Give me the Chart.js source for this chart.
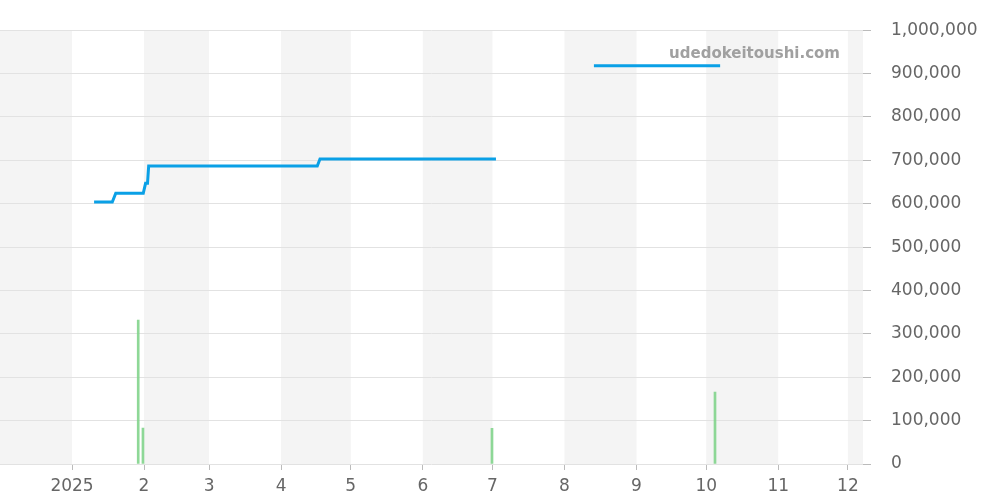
<!DOCTYPE html>
<html>
<head>
<meta charset="utf-8">
<script src="https://cdn.jsdelivr.net/npm/chart.js@4/dist/chart.umd.min.js"></script>
<style>
  html, body { margin: 0; padding: 0; background: #fff; }
  #wrap { width: 1000px; height: 500px; position: relative; }
</style>
</head>
<body>
<div id="wrap"><canvas id="c" width="1000" height="500"></canvas></div>
<script>
// ---- data ----
const xMinDate = '2024-12-01';
const xMaxDate = '2025-12-07T12:00';
const monthTickDates = ['2025-01-01','2025-02-01','2025-03-01','2025-04-01','2025-05-01','2025-06-01',
                        '2025-07-01','2025-08-01','2025-09-01','2025-10-01','2025-11-01','2025-12-01'];
const monthTickLabels = ['2025','2','3','4','5','6','7','8','9','10','11','12'];
const bandDates = ['2024-12-01', ...monthTickDates, '2026-01-01'];

const priceDates = ['2025-01-10T12:00','2025-01-18T08:00','2025-01-19T20:00','2025-01-31T16:00',
                    '2025-02-01T16:00','2025-02-02T12:00','2025-02-03T00:00','2025-04-16T14:00',
                    '2025-04-17T18:00','2025-07-02T12:00','2025-07-20',
                    '2025-08-13T16:00','2025-10-07'];
const priceValues = [604000, 604000, 624000, 624000,
                     647000, 647000, 687000, 687000,
                     703000, 703000, null,
                     918000, 918000];

const volumeDates = ['2025-01-29T12:00','2025-01-31T13:00','2025-06-30T19:00','2025-10-04T19:00'];
const volumeValues = [332000, 83000, 82000, 166000];

const yTickValues = [0,100000,200000,300000,400000,500000,600000,700000,800000,900000,1000000];

// ---- helpers ----
const ORIGIN = Date.UTC(2024, 11, 1);
function toDay(s) {
  const [d, t = '00:00'] = s.split('T');
  const [Y, M, D] = d.split('-').map(Number);
  const [h, m] = t.split(':').map(Number);
  return (Date.UTC(Y, M - 1, D, h, m) - ORIGIN) / 86400000;
}
const monthTicks = monthTickDates.map(toDay);

const bandsPlugin = {
  id: 'bands',
  beforeDraw(chart) {
    const { ctx, chartArea: a, scales: { x } } = chart;
    ctx.save();
    ctx.fillStyle = '#fff';
    ctx.fillRect(0, 0, chart.width, chart.height);
    ctx.beginPath();
    ctx.rect(a.left, a.top, a.right - a.left, a.bottom - a.top);
    ctx.clip();
    ctx.fillStyle = '#f4f4f4';
    for (let i = 0; i < bandDates.length - 1; i += 2) {
      const x0 = x.getPixelForValue(toDay(bandDates[i]));
      const x1 = x.getPixelForValue(toDay(bandDates[i + 1]));
      ctx.fillRect(x0, a.top, x1 - x0, a.bottom - a.top);
    }
    ctx.restore();
  },
  afterDraw(chart) {
    const { ctx } = chart;
    ctx.save();
    ctx.font = 'bold 15px "DejaVu Sans"';
    ctx.fillStyle = '#a0a0a0';
    ctx.textAlign = 'right';
    ctx.textBaseline = 'alphabetic';
    ctx.fillText('udedokeitoushi.com', 840, 58);
    ctx.restore();
  }
};

new Chart(document.getElementById('c'), {
  data: {
    datasets: [
      {
        type: 'line',
        data: priceDates.map((d, i) => ({ x: toDay(d), y: priceValues[i] })),
        borderColor: '#0aa0e6',
        borderWidth: 3,
        pointRadius: 0,
        spanGaps: false,
        tension: 0,
        order: 0
      },
      {
        type: 'bar',
        data: volumeDates.map((d, i) => ({ x: toDay(d), y: volumeValues[i] })),
        backgroundColor: 'rgba(130,212,140,0.9)',
        barThickness: 2,
        order: 1
      }
    ]
  },
  options: {
    responsive: false,
    animation: false,
    events: [],
    layout: { padding: { top: 30, left: 0, right: 0, bottom: 0 } },
    plugins: { legend: { display: false }, tooltip: { enabled: false } },
    scales: {
      x: {
        type: 'linear',
        min: toDay(xMinDate),
        max: toDay(xMaxDate),
        offset: false,
        afterBuildTicks(s) { s.ticks = monthTicks.map(v => ({ value: v })); },
        afterFit(s) { s.height = 36; },
        grid: { offset: false, drawOnChartArea: false, drawTicks: true, tickLength: 6, tickColor: '#bbb' },
        border: { display: false },
        ticks: {
          autoSkip: false,
          maxRotation: 0,
          padding: 6,
          color: '#666',
          font: { family: '"DejaVu Sans"', size: 17 },
          callback(v) { const i = monthTicks.indexOf(v); return i >= 0 ? monthTickLabels[i] : ''; }
        }
      },
      y: {
        type: 'linear',
        position: 'right',
        min: 0,
        max: 1000000,
        afterBuildTicks(s) { s.ticks = yTickValues.map(v => ({ value: v })); },
        afterFit(s) { s.width = 137; },
        grid: { color: '#e2e2e2', tickLength: 8, tickColor: '#bbb' },
        border: { display: false },
        ticks: {
          padding: 20,
          color: '#666',
          font: { family: '"DejaVu Sans"', size: 17 },
          callback(v) { return v.toLocaleString('en-US'); }
        }
      }
    }
  },
  plugins: [bandsPlugin]
});
</script>
</body>
</html>
